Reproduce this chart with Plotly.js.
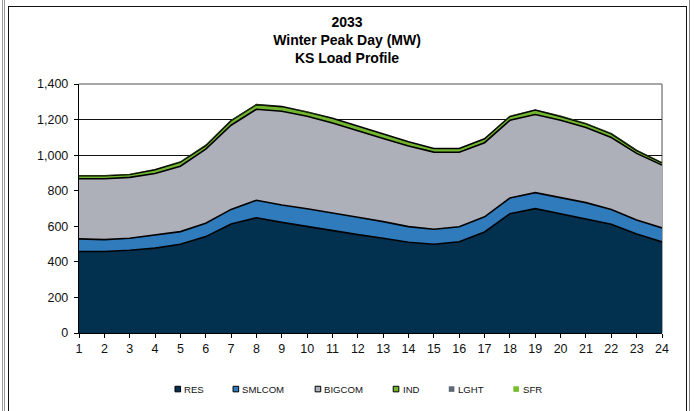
<!DOCTYPE html>
<html>
<head>
<meta charset="utf-8">
<script src="https://cdn.plot.ly/plotly-3.0.1.min.js"></script>
<style>
  body { margin: 0; background: #fff; }
  #plotArea { width: 694px; height: 411px; }
  #frame { position: absolute; left: 8px; top: 6px; width: 677px; height: 420px;
           border: 1.5px solid #111; pointer-events: none; z-index: 10; }
  #edgeL { position: absolute; left: 2px; top: 0; width: 1px; height: 411px;
           border-left: 1px solid #999; border-right: 1px solid #999; pointer-events: none; z-index: 10; }
  #edgeR { position: absolute; left: 689px; top: 0; width: 1px; height: 411px;
           background: #888; pointer-events: none; z-index: 10; }
</style>
</head>
<body>
<div id="plotArea"></div>
<div id="frame"></div>
<div id="edgeL"></div>
<div id="edgeR"></div>
<script>
// hours of the day
let hours = [1,2,3,4,5,6,7,8,9,10,11,12,13,14,15,16,17,18,19,20,21,22,23,24];

// load by class (MW)
let res    = [458,458,465,477,499,542,613,648,622,598,576,553,533,510,499,513,568,671,699,669,643,611,557,512];
let smlcom = [71,67,68,73,71,75,82,98,98,101,101,98,93,88,84,84,85,88,90,92,90,84,78,79];
let bigcom = [338,342,342,347,368,417,473,512,527,520,504,485,468,453,434,419,417,437,439,435,422,404,375,353];
let ind    = [17,17,16,21,23,20,26,26,26,24,26,26,26,24,20,21,22,22,26,22,21,21,16,13];
let lght   = [2,2,2,2,2,2,1,0,0,0,0,0,0,0,0,0,1,2,2,2,2,2,2,2];
let sfr    = [1,1,1,1,1,1,1,1,1,1,1,1,1,1,1,1,1,1,1,1,1,1,1,1];

let names  = ["RES","SMLCOM","BIGCOM","IND","LGHT","SFR"];
let series = [res, smlcom, bigcom, ind, lght, sfr];
let colors = ["#02304f","#2f7bbb","#adb0b8","#72b52f","#5d6a74","#78bd2e"];
let outlined = [true, true, true, true, false, false];

// plot area in pixels (used to place the legend keys under the chart)
let plotL = 79.3, plotR = 661.7, plotT = 83.7, plotB = 333.3;
let legendX = [178, 236, 318, 396, 451.5, 516];   // key centres
let legendY = 389.5;

let data = [];

// stacked areas
series.forEach(function (vals, i) {
  data.push({
    x: hours,
    y: vals,
    type: "scatter",
    mode: "lines",
    stackgroup: "load",
    fillcolor: colors[i],
    line: { color: "#000", width: outlined[i] ? 1.6 : 0 },
    showlegend: false,
    hoverinfo: "skip"
  });
});

function px2x(p) { return (p - plotL) / (plotR - plotL); }
function px2y(p) { return (plotB - p) / (plotB - plotT); }

let shapes = [
  { type: "line", xref: "paper", yref: "paper", x0: 0, x1: 1, y0: 1, y1: 1,
    line: { color: "#8a8a8a", width: 1.5 }, layer: "between" },
  { type: "line", xref: "paper", yref: "paper", x0: 1, x1: 1, y0: 0, y1: 1,
    line: { color: "#8a8a8a", width: 1.5 }, layer: "between" }
];
let annotations = [];

// legend: small square keys with labels
names.forEach(function (n, i) {
  shapes.push({
    type: "rect", xref: "paper", yref: "paper",
    x0: px2x(legendX[i] - 2.8), x1: px2x(legendX[i] + 2.8),
    y0: px2y(legendY + 2.8), y1: px2y(legendY - 2.8),
    fillcolor: colors[i],
    line: { color: "#000", width: outlined[i] ? 1 : 0 }
  });
  annotations.push({
    xref: "paper", yref: "paper",
    x: px2x(legendX[i] + 4.5), y: px2y(legendY),
    xanchor: "left", yanchor: "middle",
    text: n, showarrow: false,
    font: { size: 9.6, color: "#111" }
  });
});

let layout = {
  width: 694,
  height: 411,
  margin: { l: plotL, r: 694 - plotR, t: plotT, b: 411 - plotB },
  paper_bgcolor: "#fff",
  plot_bgcolor: "#fff",
  font: { family: "Liberation Sans, Arial, sans-serif", size: 12, color: "#111" },
  title: {
    text: "2033<br>Winter Peak Day (MW)<br>KS Load Profile",
    font: { size: 14, weight: "bold", color: "#000" },
    x: 0.5, xref: "container",
    y: 0.935, yref: "container", yanchor: "top"
  },
  xaxis: {
    range: [1, 24],
    tickvals: hours,
    ticks: "outside",
    ticklen: 4,
    tickcolor: "#000",
    tickfont: { size: 12.5 },
    showline: true,
    linecolor: "#000",
    linewidth: 1.2,
    showgrid: false,
    zeroline: false,
    fixedrange: true
  },
  yaxis: {
    range: [0, 1400],
    dtick: 200,
    tickformat: ",d",
    ticks: "outside",
    ticklen: 4,
    tickcolor: "#000",
    tickfont: { size: 12.5 },
    ticklabelstandoff: 3,
    showline: true,
    linecolor: "#000",
    linewidth: 1.2,
    showgrid: true,
    gridcolor: "#111",
    gridwidth: 1,
    zeroline: false,
    fixedrange: true
  },
  shapes: shapes,
  annotations: annotations,
  showlegend: false
};

Plotly.newPlot("plotArea", data, layout, { staticPlot: true });
</script>
</body>
</html>
